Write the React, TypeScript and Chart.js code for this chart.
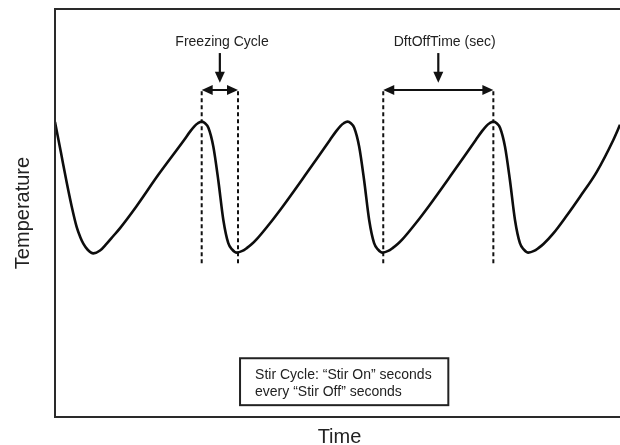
import React, { useEffect, useRef } from 'react';
import { Chart, registerables } from 'chart.js';

Chart.register(...registerables);

// Time axis (arbitrary seconds) and temperature (arbitrary units 0-100)
const timeSec = [
  -1, 3, 7.1, 10.5, 13.9, 16.5, 18.5, 21.5, 25.4, 30, 34.6, 39, 43.8, 55, 70, 87.9, 92.1, 95.1, 97.4,
  100, 102.3, 104.6, 108, 111.4, 114.9, 118.3, 120.9, 124.1, 128, 131, 134.5, 137.9, 147, 156.2, 172.3, 188.3, 192.5, 195.5, 197.8,
  200.4, 202.7, 205, 208.4, 211.8, 215.3, 218.7, 221.3, 224.5, 228.4, 231.4, 234.9, 238.3, 247.4, 256.6, 272.7, 288.7, 292.9, 295.9, 298.2,
  300.8, 303.1, 305.4, 308.8, 312.2, 315.7, 319.1, 321.7, 324.9, 328.8, 331.8, 335.3, 342.1, 351, 360.5, 372, 383.4, 388,
];
const temperature = [
  72.3, 65.0, 57.4, 51.6, 46.6, 44.0, 42.5, 41.0, 40.1, 40.8, 42.5, 44.3, 46.3, 51.6, 59.3, 67.9, 70.0, 71.3, 72.0,
  72.4, 72.0, 70.9, 66.3, 58.1, 48.3, 42.6, 41.1, 40.3, 40.7, 41.4, 42.4, 43.6, 47.5, 51.8, 59.8, 67.9, 70.0, 71.3, 72.0,
  72.4, 72.0, 70.9, 66.3, 58.1, 48.3, 42.6, 41.1, 40.3, 40.7, 41.4, 42.4, 43.6, 47.5, 51.8, 59.8, 67.9, 70.0, 71.3, 72.0,
  72.4, 72.0, 70.9, 66.3, 58.1, 48.3, 42.6, 41.1, 40.3, 40.7, 41.4, 42.4, 45.0, 49.2, 54.0, 60.1, 67.9, 71.6,
];

// Dashed marker lines (time positions) and their vertical extent
const markerTimes = [100, 125, 225, 300.8];
const markerLow = 37.7;
const markerHigh = 80.15;

// Annotation texts
const freezingLabel = 'Freezing Cycle';
const dftLabel = 'DftOffTime (sec)';
const boxLines = ['Stir Cycle: \u201CStir On\u201D seconds', 'every \u201CStir Off\u201D seconds'];
const xTitle = 'Time';
const yTitle = 'Temperature';

const FONT = '"Liberation Sans", Arial, Helvetica, sans-serif';

function arrowHead(ctx: CanvasRenderingContext2D, tipX: number, tipY: number, dirX: number, dirY: number, len: number, half: number) {
  const bx = tipX - dirX * len;
  const by = tipY - dirY * len;
  const px = -dirY;
  const py = dirX;
  ctx.beginPath();
  ctx.moveTo(tipX, tipY);
  ctx.lineTo(bx + px * half, by + py * half);
  ctx.lineTo(bx - px * half, by - py * half);
  ctx.closePath();
  ctx.fill();
}

const annotationPlugin = {
  id: 'diagramAnnotations',
  afterDraw(chart: any) {
    const ctx: CanvasRenderingContext2D = chart.ctx;
    const xs = chart.scales.x;
    const ys = chart.scales.y;
    const area = chart.chartArea;
    const X = (v: number) => xs.getPixelForValue(v);
    const Y = (v: number) => ys.getPixelForValue(v);
    ctx.save();

    // frame: left, top, bottom
    ctx.strokeStyle = '#2a2a2a';
    ctx.lineWidth = 2;
    ctx.beginPath();
    ctx.moveTo(area.right + 2, area.top);
    ctx.lineTo(area.left, area.top);
    ctx.lineTo(area.left, area.bottom);
    ctx.lineTo(area.right + 2, area.bottom);
    ctx.stroke();

    ctx.fillStyle = '#111';
    ctx.strokeStyle = '#111';

    // double-headed arrows between marker pairs, with a down arrow above each
    const spans = [
      [markerTimes[0], markerTimes[1]],
      [markerTimes[2], markerTimes[3]],
    ];
    const arrowY = Y(markerHigh);
    spans.forEach(([a, b]) => {
      const x1 = X(a);
      const x2 = X(b);
      ctx.lineWidth = 2;
      ctx.beginPath();
      ctx.moveTo(x1 + 8, arrowY);
      ctx.lineTo(x2 - 8, arrowY);
      ctx.stroke();
      arrowHead(ctx, x1, arrowY, -1, 0, 11, 5);
      arrowHead(ctx, x2, arrowY, 1, 0, 11, 5);
      const mx = X((a + b) / 2);
      const top = Y(89.2);
      const tip = Y(81.9);
      ctx.lineWidth = 2.2;
      ctx.beginPath();
      ctx.moveTo(mx, top);
      ctx.lineTo(mx, tip - 9);
      ctx.stroke();
      arrowHead(ctx, mx, tip, 0, 1, 11, 5);
    });

    // labels
    ctx.font = `14px ${FONT}`;
    ctx.fillStyle = '#222';
    ctx.textAlign = 'center';
    ctx.textBaseline = 'middle';
    ctx.fillText(freezingLabel, X(114), Y(91.9));
    ctx.fillText(dftLabel, X(267.3), Y(91.9));

    // text box
    const bx1 = X(126.4);
    const bx2 = X(269.8);
    const by1 = Y(14.4);
    const by2 = Y(2.9);
    ctx.fillStyle = '#fff';
    ctx.fillRect(bx1, by1, bx2 - bx1, by2 - by1);
    ctx.strokeStyle = '#222';
    ctx.lineWidth = 2;
    ctx.strokeRect(bx1, by1, bx2 - bx1, by2 - by1);
    ctx.fillStyle = '#222';
    ctx.textAlign = 'left';
    ctx.fillText(boxLines[0], bx1 + 15, by1 + 17);
    ctx.fillText(boxLines[1], bx1 + 15, by1 + 33.5);

    // axis titles
    ctx.font = `20px ${FONT}`;
    ctx.fillStyle = '#222';
    ctx.textAlign = 'center';
    ctx.fillText(xTitle, (area.left + area.right) / 2 + 2, area.bottom + 20);
    ctx.save();
    ctx.translate(area.left - 32, (area.top + area.bottom) / 2);
    ctx.rotate(-Math.PI / 2);
    ctx.fillText(yTitle, 0, 0);
    ctx.restore();

    ctx.restore();
  },
};

export default function App() {
  const canvasRef = useRef<HTMLCanvasElement | null>(null);

  useEffect(() => {
    document.body.style.margin = '0';
    const canvas = canvasRef.current;
    if (!canvas) return;

    const curve = timeSec.map((t, i) => ({ x: t, y: temperature[i] }));
    const markerSets = markerTimes.map((t) => ({
      data: [
        { x: t, y: markerLow },
        { x: t, y: markerHigh },
      ],
      borderColor: '#111',
      borderWidth: 2,
      borderDash: [4, 3],
      pointRadius: 0,
      showLine: true,
      fill: false,
    }));

    const chart = new Chart(canvas, {
      type: 'scatter',
      data: {
        datasets: [
          {
            data: curve,
            borderColor: '#0d0d0d',
            borderWidth: 2.6,
            pointRadius: 0,
            showLine: true,
            fill: false,
            cubicInterpolationMode: 'monotone',
          } as any,
          ...(markerSets as any[]),
        ],
      },
      options: {
        animation: false,
        responsive: false,
        events: [],
        layout: { padding: { left: 55, top: 9, right: 0, bottom: 28 } },
        plugins: {
          legend: { display: false },
          tooltip: { enabled: false },
        },
        scales: {
          x: { type: 'linear', display: false, min: -1, max: 388 },
          y: { type: 'linear', display: false, min: 0, max: 100 },
        },
      },
      plugins: [annotationPlugin],
    });

    return () => chart.destroy();
  }, []);

  return (
    <div style={{ width: 620, height: 445, background: '#fff' }}>
      <canvas ref={canvasRef} width={620} height={445} />
    </div>
  );
}
